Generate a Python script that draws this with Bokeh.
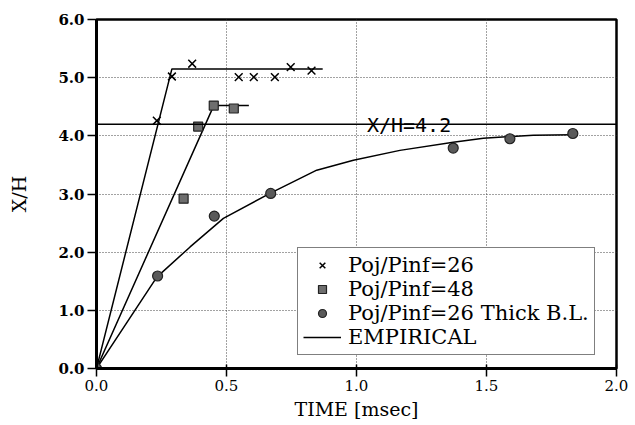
from bokeh.plotting import figure
from bokeh.models import (FixedTicker, CustomJSTickFormatter, Span, Legend, LegendItem,
                          Label)
from bokeh.embed import file_html
from bokeh.resources import INLINE

# ---- data ----
time_26 = [0.232, 0.290, 0.368, 0.547, 0.605, 0.686, 0.747, 0.827]
xh_26 = [4.26, 5.02, 5.24, 5.01, 5.01, 5.01, 5.18, 5.12]

time_48 = [0.335, 0.391, 0.451, 0.528]
xh_48 = [2.92, 4.16, 4.52, 4.47]

time_tbl = [0.0, 0.235, 0.453, 0.670, 1.372, 1.590, 1.832]
xh_tbl = [0.0, 1.59, 2.62, 3.01, 3.79, 3.95, 4.04]

emp26_t = [0.0, 0.290, 0.870]
emp26_y = [0.0, 5.15, 5.15]

emp48_t = [0.0, 0.451, 0.586]
emp48_y = [0.0, 4.52, 4.52]

emptbl_t = [0.0, 0.232, 0.360, 0.488, 0.667, 0.847, 0.988, 1.167, 1.372, 1.488, 1.680, 1.832]
emptbl_y = [0.0, 1.57, 2.09, 2.58, 3.01, 3.41, 3.58, 3.75, 3.89, 3.96, 4.01, 4.02]

xh_level = 4.2
level_label = "X/H=4.2"
level_label_t = 1.04

x_ticks = [0.0, 0.5, 1.0, 1.5, 2.0]
y_ticks = [0.0, 1.0, 2.0, 3.0, 4.0, 5.0, 6.0]

labels = ["Poj/Pinf=26", "Poj/Pinf=48", "Poj/Pinf=26 Thick B.L.", "EMPIRICAL"]

SERIF = "DejaVu Serif"

p = figure(frame_width=520, frame_height=349,
           min_border_left=96, min_border_right=12, min_border_top=19, min_border_bottom=50,
           x_range=(0, 2.0), y_range=(0, 6.0),
           output_backend="svg", toolbar_location=None,
           background_fill_color="white", border_fill_color="white")

p.outline_line_color = "black"
p.outline_line_width = 2.5

for ax in (p.xaxis[0], p.yaxis[0]):
    ax.axis_line_width = 3
    ax.axis_line_color = "black"
    ax.major_tick_line_color = "black"
    ax.major_tick_line_width = 1.5
    ax.minor_tick_line_color = None
    ax.major_label_text_font = SERIF
    ax.major_label_text_font_size = "15px"
    ax.major_label_text_color = "black"
    ax.axis_label_text_font = SERIF
    ax.axis_label_text_font_style = "normal"
    ax.axis_label_text_color = "black"
    ax.axis_label_text_font_size = "19px"

p.xaxis.ticker = FixedTicker(ticks=x_ticks)
p.yaxis.ticker = FixedTicker(ticks=y_ticks)
p.xaxis.formatter = CustomJSTickFormatter(code="return tick.toFixed(1);")
p.yaxis.formatter = CustomJSTickFormatter(code="return tick.toFixed(1);")
p.xaxis.major_tick_out = 8
p.xaxis.major_tick_in = 4
p.yaxis.major_tick_out = 9
p.yaxis.major_tick_in = 0
p.xaxis.major_label_standoff = 3
p.yaxis.major_label_standoff = 3
p.yaxis.major_label_text_font_style = "bold"
p.xaxis.axis_label = "TIME [msec]"
p.yaxis.axis_label = "X/H"
p.xaxis.axis_label_standoff = 4
p.yaxis.axis_label_standoff = 25

p.grid.grid_line_color = "#444444"
p.grid.grid_line_dash = "1 2"
p.grid.grid_line_width = 1

# level line and its label
p.add_layout(Span(location=xh_level, dimension="width", line_color="black", line_width=1.5))
p.add_layout(Label(x=level_label_t, y=xh_level, text=level_label, y_offset=-1,
                   text_font="DejaVu Sans Mono", text_font_size="20px",
                   text_color="black", text_baseline="alphabetic"))

# empirical lines
l1 = p.line(emp26_t, emp26_y, line_color="black", line_width=1.5)
p.line(emp48_t, emp48_y, line_color="black", line_width=1.5)
p.line(emptbl_t, emptbl_y, line_color="black", line_width=1.5)

# data markers
r26 = p.scatter(time_26, xh_26, marker="x", size=11, line_color="black", line_width=1.5)
r48 = p.scatter(time_48, xh_48, marker="square", size=9, fill_color="#6e6e6e",
                line_color="#222222", line_width=1.2)
rtbl = p.scatter(time_tbl, xh_tbl, marker="circle", size=10, fill_color="#5a5a5a",
                 line_color="#222222", line_width=1.2)

legend = Legend(items=[LegendItem(label=labels[0], renderers=[r26]),
                       LegendItem(label=labels[1], renderers=[r48]),
                       LegendItem(label=labels[2], renderers=[rtbl]),
                       LegendItem(label=labels[3], renderers=[l1])],
                location=(201, 13))
legend.border_line_color = "black"
legend.border_line_width = 1.5
legend.background_fill_color = "white"
legend.background_fill_alpha = 1.0
legend.label_text_font = SERIF
legend.label_text_font_size = "21px"
legend.label_text_color = "black"
legend.label_height = 20
legend.glyph_height = 20
legend.glyph_width = 38
legend.label_standoff = 7
legend.spacing = -3
legend.padding = 5
legend.margin = 0
p.add_layout(legend, "center")

open("out.html", "w").write(file_html(p, INLINE))
